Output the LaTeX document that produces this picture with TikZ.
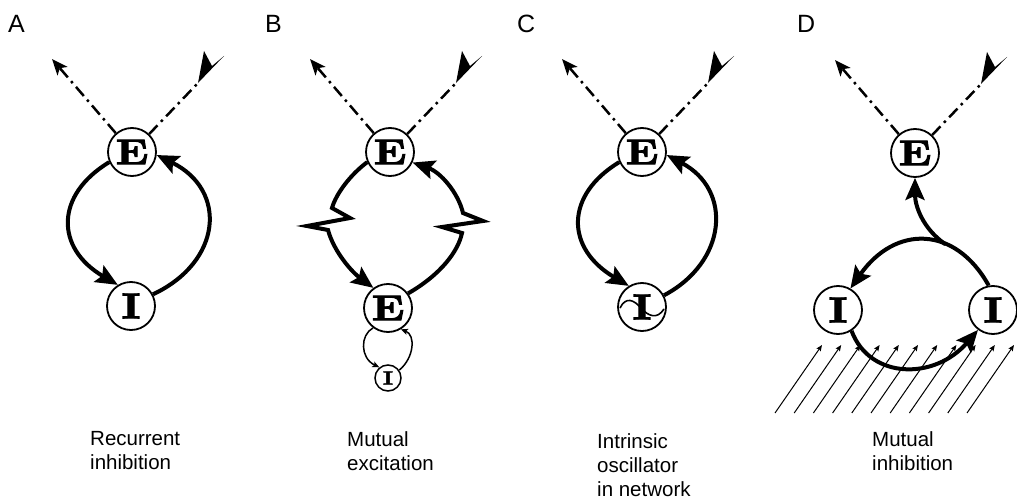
\documentclass[tikz,border=0pt]{standalone}
\usepackage{fontspec}
\usepackage{graphicx}
\usetikzlibrary{arrows.meta,calc}
\newfontfamily\sansf{Liberation Sans}
\newfontfamily\nodefont{lmroman10-bold.otf}[FakeBold=2.5]
\newcommand\ltrE{\scalebox{1.2}[1]{E}}
\newcommand\ltrI{\scalebox{1.2}[1]{I}}
\begin{document}
\begin{tikzpicture}[x=1pt,y=-1pt,
  neuron/.style={circle,draw,line width=1.8pt,minimum size=48pt,inner sep=0pt,font=\nodefont\fontsize{36}{36}\selectfont},
  smallneuron/.style={circle,draw,line width=1.5pt,minimum size=26pt,inner sep=0pt,font=\nodefont\fontsize{19}{19}\selectfont},
  syn/.style={line width=4pt,-{Stealth[length=22pt,width=19pt,inset=4pt]}},
  thinsyn/.style={line width=1.5pt,-{Stealth[length=7pt,width=6pt,inset=1.5pt]}},
  dd/.style={line width=2.5pt,dash pattern=on 12pt off 5pt on 2.5pt off 5pt},
  hatch/.style={line width=1pt,-{Stealth[length=6pt,width=5pt,inset=1pt]}},
  plbl/.style={font=\sansf\fontsize{25}{25}\selectfont,inner sep=0pt},
  caption/.style={font=\sansf\fontsize{20.5}{24}\selectfont,align=left,inner sep=0pt}
]
\useasboundingbox (0,0) rectangle (1017,500);

% panel letters
\node[plbl,anchor=base west] (la) at (8,33) {A};
\node[plbl,anchor=base west] (lb) at (265,33) {B};
\node[plbl,anchor=base west] (lc) at (517,33) {C};
\node[plbl,anchor=base west] (ld) at (797,33) {D};

% nodes
\node[neuron] (eA) at (132,152) {\ltrE};
\node[neuron] (iA) at (131,306) {\ltrI};
\node[neuron] (eB) at (390,152) {\ltrE};
\node[neuron] (fB) at (388,308) {\ltrE};
\node[smallneuron] (iB) at (388,378) {\ltrI};
\node[neuron] (eC) at (642,152) {\ltrE};
\node[neuron] (iC) at (642,307) {\ltrI};
\node[neuron] (eD) at (915,153) {\ltrE};
\node[neuron] (jD) at (838,310) {\ltrI};
\node[neuron] (kD) at (993,310) {\ltrI};

% top input / output lines
\foreach \p in {A,B,C,D} {
  \draw[dd,-{Stealth[length=16pt,width=13pt,inset=4pt]}] (e\p) -- ($(e\p)+(-80,-93)$);
  \coordinate (in\p) at ($(e\p)+(66,-69)$);
  \draw[dd] (e\p) -- (in\p);
  \fill (in\p) -- ($(in\p)+(6,-32)$) -- ($(in\p)+(14,-17)$) -- ($(in\p)+(26,-27)$) -- cycle;
}

% A
\draw[syn] (eA.204) .. controls (55,195) and (55,248) .. (iA.122);
\draw[syn] (iA.28) .. controls (222,262) and (228,190) .. (eA.353);

% B
\draw[syn] (eB.204) .. controls (350,175) and (336,194) .. (332,208) -- (350,218) -- (307,226) -- (328,230) .. controls (334,252) and (352,272) .. (fB.126);
\draw[syn] (fB.36) .. controls (440,275) and (458,252) .. (462,233) -- (442,227) -- (483,221) -- (463,213) .. controls (458,192) and (440,172) .. (eB.335);
\draw[thinsyn] (fB.233) .. controls (360,335) and (360,358) .. (iB.129);
\draw[thinsyn] (iB.35) .. controls (414,358) and (416,335) .. (fB.301);

% C
\draw[syn] (eC.204) .. controls (565,195) and (565,248) .. (iC.122);
\draw[syn] (iC.28) .. controls (727,262) and (733,190) .. (eC.353);
\draw[line width=1.6pt] (620,308) .. controls (626,296) and (634,300) .. (641,308) .. controls (648,316) and (657,320) .. (664,309);

% D
\foreach \k in {0,...,10} \draw[hatch] ({775+19.2*\k},413) -- ++(47,-68);
\path (kD.100) .. controls (955,225) and (895,225) .. (jD.60) coordinate[pos=0.35] (jn);
\draw[syn] (kD.100) .. controls (955,225) and (895,225) .. (jD.60);
\draw[syn] (jn) .. controls (922,228) and (915,205) .. (eD.270);
\draw[syn] (jD.303) .. controls (870,380) and (935,380) .. (kD.233);

% captions
\node[caption,anchor=north west] (ta) at (90,431) {Recurrent\\inhibition};
\node[caption,anchor=north west] (tb) at (347,431) {Mutual\\excitation};
\node[caption,anchor=north west] (tc) at (597,433) {Intrinsic\\oscillator\\in network};
\node[caption,anchor=north west] (td) at (872,431) {Mutual\\inhibition};
\end{tikzpicture}
\end{document}
